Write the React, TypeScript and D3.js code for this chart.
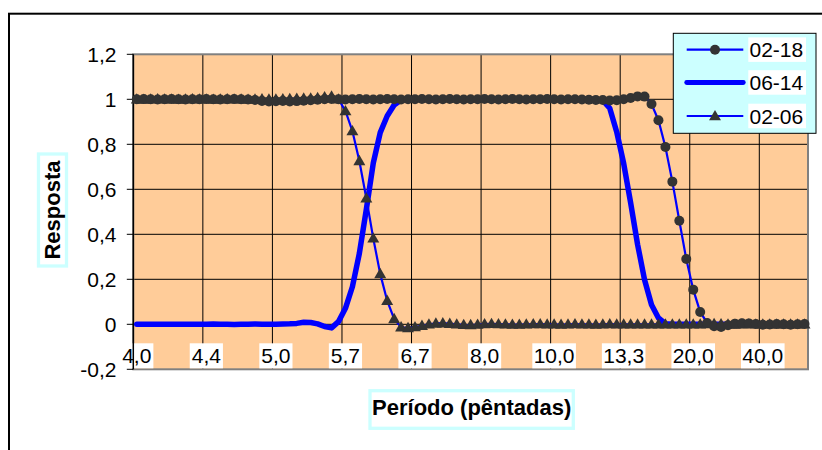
import React from "react";
import * as d3 from "d3";

// Tick labels (period in pentads) shown every 10 categories
const tickLabels = ["4,0", "4,4", "5,0", "5,7", "6,7", "8,0", "10,0", "13,3", "20,0", "40,0"];
const yTicks = [-0.2, 0, 0.2, 0.4, 0.6, 0.8, 1, 1.2];
const seriesNames = ["02-18", "06-14", "02-06"];

// 02-18 (circles)
const s0218 = [
  1.000, 1.001, 1.000, 0.999, 1.000, 1.001, 1.000, 0.999, 1.000, 1.000,
  1.001, 1.000, 0.999, 1.000, 1.001, 1.000, 0.999, 0.997, 0.993, 0.990,
  0.991, 0.993, 0.990, 0.992, 0.994, 0.996, 0.998, 1.000, 1.001, 1.000,
  0.999, 1.000, 1.001, 1.000, 0.999, 1.000, 1.001, 1.000, 0.999, 1.000,
  1.000, 1.001, 1.000, 0.999, 1.000, 1.001, 1.000, 0.999, 1.000, 1.000,
  1.001, 1.000, 0.999, 1.000, 1.001, 1.000, 0.999, 1.000, 1.000, 1.001,
  1.000, 0.999, 1.000, 1.000, 0.999, 0.998, 0.997, 0.997, 0.995, 0.996,
  1.000, 1.006, 1.013, 1.012, 0.979, 0.907, 0.788, 0.634, 0.460, 0.290,
  0.154, 0.055, 0.006, -0.009, -0.012, -0.004, 0.003, 0.005, 0.004, 0.001,
  -0.002, -0.001, 0.001, 0.000, -0.002, 0.000, 0.001,
];

// 06-14 (thick line)
const s0614 = [
  0.000, 0.000, 0.000, 0.000, 0.000, 0.000, 0.000, 0.000, 0.000, 0.000,
  0.000, 0.001, 0.000, 0.000, -0.001, 0.000, 0.000, 0.001, 0.000, 0.000,
  0.000, 0.001, 0.002, 0.004, 0.009, 0.008, 0.002, -0.010, -0.016, 0.012,
  0.071, 0.167, 0.315, 0.510, 0.716, 0.852, 0.926, 0.975, 0.997, 1.000,
  1.000, 1.000, 1.000, 1.000, 1.000, 1.000, 1.000, 1.000, 1.000, 1.000,
  1.000, 1.000, 1.000, 1.000, 1.000, 1.000, 1.000, 1.000, 1.000, 1.000,
  1.000, 1.000, 1.000, 1.000, 1.000, 1.000, 1.000, 0.995, 0.960, 0.855,
  0.715, 0.540, 0.355, 0.198, 0.087, 0.028, 0.003, 0.000, 0.000, 0.000,
  0.000, 0.000, 0.000, 0.000, 0.000, 0.000, 0.000, 0.000, 0.000, 0.000,
  0.000, 0.000, 0.000, 0.000, 0.000, 0.000, 0.000,
];

// 02-06 (triangles)
const s0206 = [
  1.000, 0.999, 1.000, 1.001, 1.000, 1.000, 0.999, 1.000, 1.001, 1.000,
  1.000, 0.999, 1.000, 1.001, 1.000, 1.000, 0.999, 1.000, 1.001, 1.000,
  1.000, 1.001, 1.002, 1.003, 1.004, 1.004, 1.006, 1.010, 1.013, 1.000,
  0.948, 0.859, 0.726, 0.560, 0.382, 0.224, 0.105, 0.024, -0.013, -0.016,
  -0.012, -0.006, 0.000, 0.004, 0.005, 0.003, 0.000, -0.002, -0.003, -0.001,
  0.001, 0.002, 0.001, 0.000, -0.001, -0.001, 0.000, 0.001, 0.001, 0.000,
  0.000, -0.001, 0.000, 0.001, 0.000, 0.000, -0.001, 0.000, 0.001, 0.000,
  0.000, 0.000, 0.000, 0.000, 0.000, 0.000, 0.000, 0.000, 0.000, 0.000,
  0.000, 0.000, 0.001, 0.002, 0.001, 0.000, -0.001, 0.000, 0.001, 0.000,
  0.000, 0.000, 0.000, 0.000, 0.000, 0.000, 0.000,
];

const FONT = "'Liberation Sans', Arial, sans-serif";
const BLUE = "#0000FF";
const MARK = "#333333";

export default function App() {
  const L = 133.3, R = 808, T = 54.3, B = 369.3;
  const n = s0218.length;
  const x = d3.scaleBand<number>().domain(d3.range(n)).range([L, R]).padding(0);
  const bw = x.bandwidth();
  const cx = (i: number) => (x(i) as number) + bw / 2;
  const y = d3.scaleLinear().domain([-0.2, 1.2]).range([B, T]);

  const line = d3.line<number>().x((_, i) => cx(i)).y((d) => y(d));

  const gridX = d3.range(0, n, 10).map((i) => x(i) as number);
  const tri = d3.symbol().type(d3.symbolTriangle).size(62)();
  const fmt = (t: number) => d3.format(".1f")(t).replace("−", "-").replace(".", ",").replace(/,0$/, "");

  return (
    <svg width={822} height={450} style={{ position: "absolute", left: 0, top: 0, background: "#fff" }}
      fontFamily={FONT}>
      <rect x={0} y={0} width={822} height={450} fill="#fff" />
      {/* outer chart frame */}
      <rect x={9} y={13.7} width={900} height={500} fill="none" stroke="#000" strokeWidth={2} />

      {/* plot area */}
      <rect x={L} y={T} width={R - L} height={B - T} fill="#FFCC99" />
      {yTicks.filter((t) => t > -0.2 && t < 1.2).map((t) => (
        <line key={"gy" + t} x1={L} x2={R} y1={y(t)} y2={y(t)} stroke="#000" strokeWidth={1} />
      ))}
      {gridX.slice(1).map((gx, k) => (
        <line key={"gx" + k} x1={gx} x2={gx} y1={T} y2={B} stroke="#000" strokeWidth={1} />
      ))}
      <rect x={L} y={T} width={R - L} height={B - T} fill="none" stroke="#808080" strokeWidth={2} />

      {/* x tick labels with white boxes */}
      {tickLabels.map((lab, k) => {
        const px = cx(k * 10);
        const w = lab.length * 10.4 + 2;
        return (
          <g key={"xl" + k}>
            <rect x={px - w / 2} y={343.3} width={w} height={25} fill="#fff" />
            <text x={px} y={363} textAnchor="middle" fontSize={21} fill="#000">{lab}</text>
          </g>
        );
      })}

      {/* y axis */}
      <line x1={L} x2={L} y1={T} y2={B} stroke="#000" strokeWidth={1.5} />
      {yTicks.map((t) => (
        <g key={"yt" + t}>
          <line x1={L - 6.5} x2={L} y1={y(t)} y2={y(t)} stroke="#000" strokeWidth={1} />
          <text x={116.5} y={y(t)} dy="0.36em" textAnchor="end" fontSize={21} fill="#000">
            {fmt(t)}
          </text>
        </g>
      ))}

      {/* series */}
      <path d={line(s0614) || ""} fill="none" stroke={BLUE} strokeWidth={5.5} strokeLinejoin="round" strokeLinecap="round" />
      <path d={line(s0206) || ""} fill="none" stroke={BLUE} strokeWidth={2.2} />
      {s0206.map((v, i) => (
        <path key={"t" + i} d={tri || ""} transform={`translate(${cx(i)},${y(v) + 0.8})`} fill={MARK} />
      ))}
      <path d={line(s0218) || ""} fill="none" stroke={BLUE} strokeWidth={2.2} />
      {s0218.map((v, i) => (
        <circle key={"c" + i} cx={cx(i)} cy={y(v)} r={5} fill={MARK} />
      ))}

      {/* legend */}
      <rect x={673.3} y={33.3} width={142.7} height={100} fill="#CCFFFF" stroke="#000" strokeWidth={1} />
      {seriesNames.map((name, k) => {
        const ry = [49.7, 82.5, 116][k];
        return (
          <g key={"lg" + k}>
            <line x1={686.7} x2={743.3} y1={ry} y2={ry} stroke={BLUE}
              strokeWidth={k === 1 ? 4.8 : 2.2} strokeLinecap={k === 1 ? "round" : "butt"} />
            {k === 0 && <circle cx={715} cy={ry} r={5} fill={MARK} />}
            {k === 2 && <path d={tri || ""} transform={`translate(715,${ry + 0.8})`} fill={MARK} />}
            <rect x={748.3} y={ry - 12.3} width={57.7} height={24.5} fill="#fff" />
            <text x={749.5} y={ry} dy="0.36em" fontSize={21} fill="#000">{name}</text>
          </g>
        );
      })}

      {/* axis titles */}
      <rect x={370} y={390.7} width={203.3} height={37.6} fill="#fff" stroke="#CCFFFF" strokeWidth={3.3} />
      <text x={471.7} y={415} textAnchor="middle" fontSize={22} fontWeight="bold" fill="#000">Período (pêntadas)</text>

      <rect x={38.5} y={154} width={28} height={112} fill="#fff" stroke="#CCFFFF" strokeWidth={3.3} />
      <text transform="translate(60,210) rotate(-90)" textAnchor="middle" fontSize={22} fontWeight="bold" fill="#000">Resposta</text>
    </svg>
  );
}
